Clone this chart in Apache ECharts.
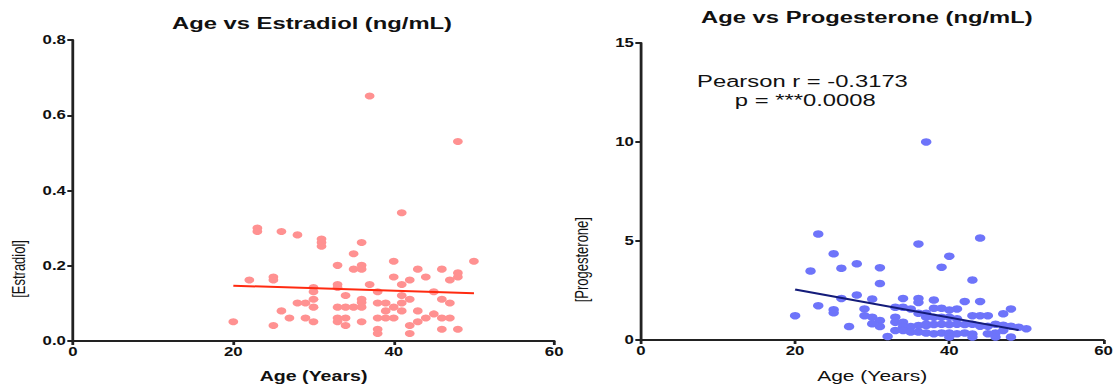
<!DOCTYPE html>
<html>
<head>
<meta charset="utf-8">
<script src="https://cdn.jsdelivr.net/npm/echarts@6/dist/echarts.min.js"></script>
<style>
  html, body { margin: 0; padding: 0; background: #fff; overflow: hidden; }
  /* the source figure is stretched sideways, so draw narrow and widen it */
  #chart { width: 798px; height: 388px; transform: scaleX(1.39975); transform-origin: 0 0; }
</style>
</head>
<body>
<div id="chart"></div>
<script>
  // estradiol panel (age, ng/mL)
  var estAge = [37, 48, 41, 23, 23, 26, 28, 31, 31, 31, 36, 35, 33, 35, 36, 36, 40, 43, 46, 50, 48, 48, 44, 40, 42, 47, 22, 25, 25, 41,
                37, 33, 33, 30, 30, 38, 45, 41, 34, 30, 36, 36, 42, 46, 28, 29, 30, 33, 34, 35, 36, 38, 39, 41, 47, 40, 26, 39, 41, 43,
                27, 29, 33, 34, 38, 39, 40, 45, 44, 46, 47, 20, 25, 30, 33, 36, 43, 34, 42, 38, 38, 42, 46, 48];
  var estVal = [0.651, 0.530, 0.341, 0.300, 0.291, 0.291, 0.282, 0.271, 0.262, 0.252, 0.262, 0.232, 0.201, 0.191, 0.201, 0.191, 0.212, 0.191, 0.191, 0.212,
                0.181, 0.170, 0.170, 0.170, 0.162, 0.162, 0.162, 0.170, 0.162, 0.150, 0.150, 0.150, 0.142, 0.142, 0.131, 0.131, 0.131, 0.121, 0.121, 0.111,
                0.111, 0.102, 0.111, 0.111, 0.101, 0.101, 0.090, 0.090, 0.090, 0.090, 0.090, 0.101, 0.101, 0.101, 0.101, 0.090, 0.080, 0.080, 0.080, 0.080,
                0.061, 0.061, 0.061, 0.061, 0.061, 0.061, 0.061, 0.072, 0.061, 0.061, 0.061, 0.051, 0.041, 0.051, 0.051, 0.051, 0.051, 0.041, 0.041, 0.031,
                0.020, 0.020, 0.031, 0.031];
  var estFitX = [20, 50];
  var estFitY = [0.147, 0.127];

  // progesterone panel
  var progAge = [37, 23, 36, 25, 28, 22, 26, 31, 31, 28, 26, 30, 34, 36, 36, 23, 25, 25, 20, 29, 29, 30, 31, 30, 31, 27, 32, 33, 34, 35,
                 33, 33, 34, 34, 35, 33, 34, 36, 37, 36, 37, 35, 36,
                 44, 40, 39, 43, 38, 42, 44, 48, 41, 47, 38, 39, 40, 43, 44, 45, 37, 38, 39, 40, 41, 37, 38, 39, 40, 41, 42, 43, 44, 45,
                 46, 47, 48, 49, 50, 37, 38, 39, 40, 41, 42, 43, 45, 46, 47, 46, 48, 40, 43];
  var progVal = [10.0, 5.35, 4.85, 4.35, 3.85, 3.48, 3.62, 3.65, 2.85, 2.27, 2.1, 2.07, 2.1, 2.1, 1.9, 1.73, 1.53, 1.37, 1.23, 1.57,
                 1.23, 1.15, 0.98, 0.82, 0.68, 0.68, 0.18, 1.65, 1.65, 1.57, 1.15, 0.9, 0.9, 0.68, 0.68, 0.48, 0.48, 1.35, 1.35, 0.73,
                 0.73, 0.4, 0.4,
                 5.15, 4.23, 3.68, 3.03, 2.02, 1.95, 1.95, 1.57, 1.57, 1.32, 1.6, 1.6, 1.52, 1.23, 1.23, 1.23, 1.15, 1.15, 1.15, 1.15, 1.07,
                 0.8, 0.78, 0.8, 0.78, 0.8, 0.78, 0.8, 0.7, 0.7, 0.8, 0.75, 0.7, 0.65, 0.57, 0.35, 0.32, 0.35, 0.35, 0.32, 0.35,
                 0.3, 0.32, 0.35, 0.48, 0.15, 0.15, 0.15, 0.15];
  var progFitX = [20, 49];
  var progFitY = [2.55, 0.5];

  function pairs(xs, ys) {
    return xs.map(function (x, i) { return [x, ys[i]]; });
  }

  var font = 'Liberation Sans, Arial, sans-serif';
  var axisLine = { show: true, lineStyle: { color: '#222', width: 2 } };
  var axisTick = { show: true, length: 4, lineStyle: { color: '#222', width: 2 } };
  var tickLabel = { color: '#111', fontWeight: 'bold', fontSize: 12, fontFamily: font, margin: 5 };

  function label(text, x, y, size, weight, align) {
    return { type: 'text', x: x, y: y,
      style: { text: text, fontSize: size, fontWeight: weight, fontFamily: font, fill: '#111',
               align: align, textAlign: align, verticalAlign: 'top', textVerticalAlign: 'top' } };
  }

  var chart = echarts.init(document.getElementById('chart'), null, { renderer: 'svg' });
  chart.setOption({
    animation: false,
    grid: [
      { left: 52.1, right: 402.1, top: 40, bottom: 37 },
      { left: 457.9, right: 9.3, top: 43, bottom: 39 }
    ],
    xAxis: [
      { gridIndex: 0, type: 'value', min: 0, max: 60, interval: 20,
        axisLine: axisLine, axisTick: axisTick, axisLabel: tickLabel, splitLine: { show: false },
        name: 'Age (Years)', nameLocation: 'middle', nameGap: 28,
        nameTextStyle: { fontSize: 14, fontWeight: 'bold', color: '#111', fontFamily: font } },
      { gridIndex: 1, type: 'value', min: 0, max: 60, interval: 20,
        axisLine: axisLine, axisTick: axisTick, axisLabel: tickLabel, splitLine: { show: false },
        name: 'Age (Years)', nameLocation: 'middle', nameGap: 28,
        nameTextStyle: { fontSize: 15, color: '#111', fontFamily: font } }
    ],
    yAxis: [
      { gridIndex: 0, type: 'value', min: 0, max: 0.8, interval: 0.2,
        axisLine: axisLine, axisTick: axisTick,
        axisLabel: Object.assign({ formatter: function (v) { return v.toFixed(1); } }, tickLabel),
        splitLine: { show: false } },
      { gridIndex: 1, type: 'value', min: 0, max: 15, interval: 5,
        axisLine: axisLine, axisTick: axisTick,
        axisLabel: tickLabel, splitLine: { show: false } }
    ],
    graphic: [
      label('Age vs Estradiol (ng/mL)', 222.9, 14, 17, 'bold', 'center'),
      label('Age vs Progesterone (ng/mL)', 619.3, 8, 17, 'bold', 'center'),
      label('Pearson r = -0.3173', 498, 72, 17, 'normal', 'left'),
      label('p = ***0.0008', 525, 91, 17, 'normal', 'left'),
      { type: 'text', left: 7, top: 240, rotation: Math.PI / 2,
        style: { text: '[Estradiol]', fontSize: 13, fontFamily: font, fill: '#111' } },
      { type: 'text', left: 409, top: 217, rotation: Math.PI / 2,
        style: { text: '[Progesterone]', fontSize: 13, fontFamily: font, fill: '#111' } }
    ],
    series: [
      { type: 'scatter', xAxisIndex: 0, yAxisIndex: 0, data: pairs(estAge, estVal),
        symbol: 'circle', symbolSize: 7, itemStyle: { color: '#ff9191', opacity: 1 } },
      { type: 'line', xAxisIndex: 0, yAxisIndex: 0, data: pairs(estFitX, estFitY),
        symbol: 'none', lineStyle: { color: '#ff2a10', width: 2 } },
      { type: 'scatter', xAxisIndex: 1, yAxisIndex: 1, data: pairs(progAge, progVal),
        symbol: 'circle', symbolSize: 7.5, itemStyle: { color: '#6e74fa', opacity: 1 } },
      { type: 'line', xAxisIndex: 1, yAxisIndex: 1, data: pairs(progFitX, progFitY),
        symbol: 'none', lineStyle: { color: '#141c7a', width: 2 } }
    ]
  });
</script>
</body>
</html>
